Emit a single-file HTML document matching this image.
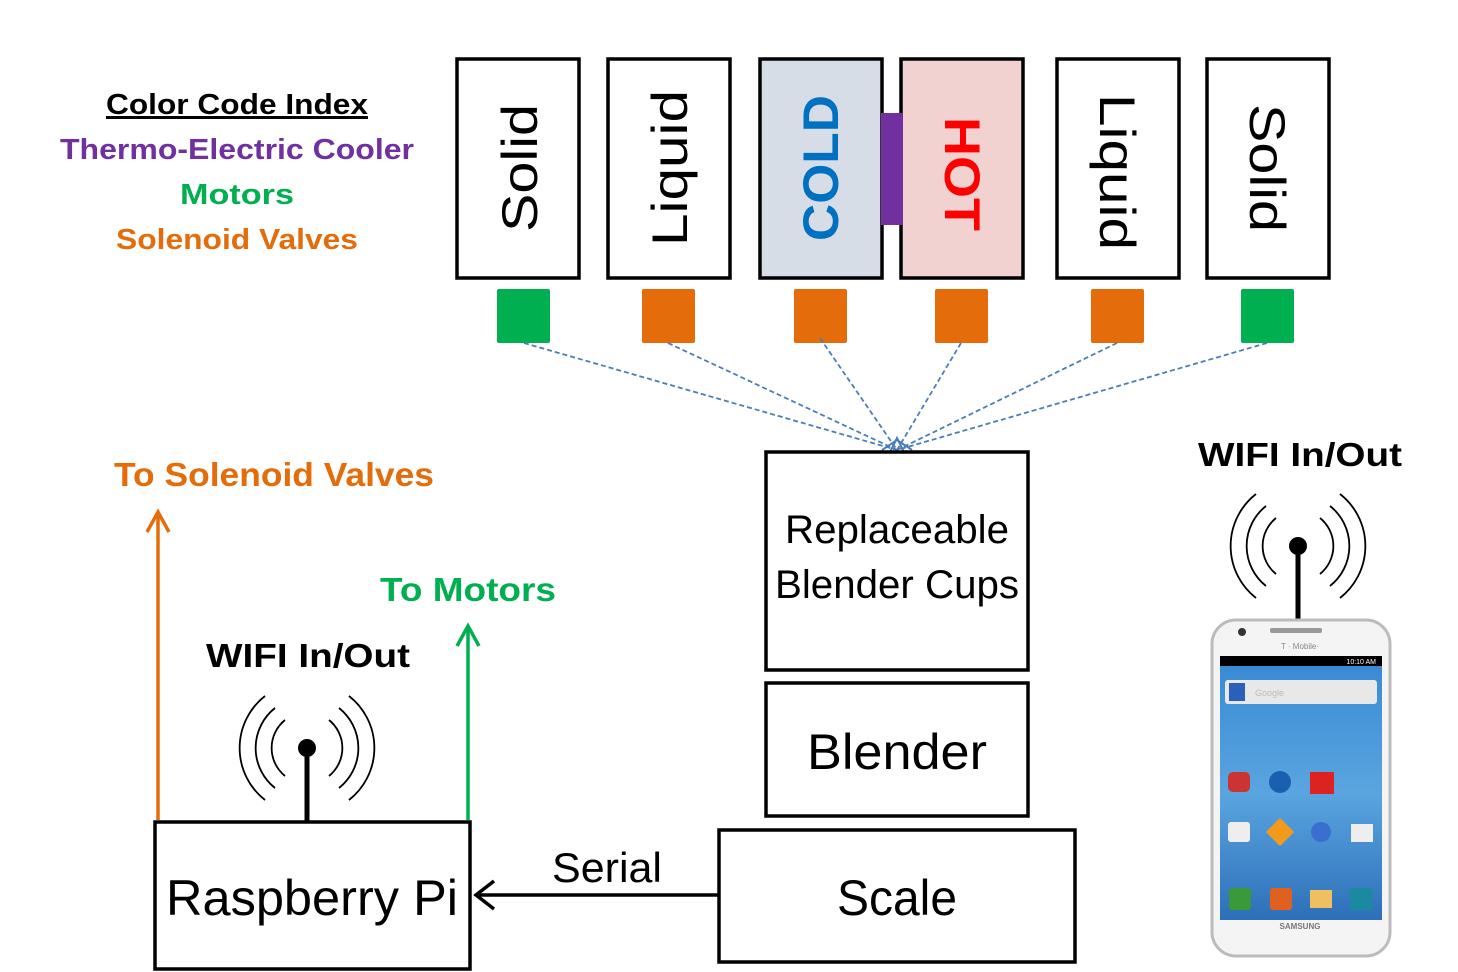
<!DOCTYPE html>
<html><head><style>body{margin:0;background:#fff}svg{display:block}text{font-family:"Liberation Sans",sans-serif}</style></head><body>
<svg width="1458" height="972" viewBox="0 0 1458 972" xmlns="http://www.w3.org/2000/svg">
<g font-weight="bold" font-size="29" text-anchor="middle">
<text x="237" y="114" fill="#000" text-decoration="underline" textLength="262" lengthAdjust="spacingAndGlyphs">Color Code Index</text>
<line x1="106" y1="118" x2="368" y2="118" stroke="#000" stroke-width="2"/>
<text x="237" y="159" fill="#7030a0" textLength="354" lengthAdjust="spacingAndGlyphs">Thermo-Electric Cooler</text>
<text x="237" y="204" fill="#00b050" textLength="114" lengthAdjust="spacingAndGlyphs">Motors</text>
<text x="237" y="249" fill="#e46c0a" textLength="242" lengthAdjust="spacingAndGlyphs">Solenoid Valves</text>
<text x="274" y="486" font-size="33" fill="#e46c0a" textLength="320" lengthAdjust="spacingAndGlyphs">To Solenoid Valves</text>
<text x="468" y="601" font-size="33" fill="#00b050" textLength="176" lengthAdjust="spacingAndGlyphs">To Motors</text>
<text x="308" y="667" font-size="33" fill="#000" textLength="204" lengthAdjust="spacingAndGlyphs">WIFI In/Out</text>
<text x="1300" y="466" font-size="33" fill="#000" textLength="204" lengthAdjust="spacingAndGlyphs">WIFI In/Out</text>
</g>
<g stroke="#000" stroke-width="3.5">
<rect x="457" y="59" width="122" height="219" fill="#fff"/>
<rect x="608" y="59" width="122" height="219" fill="#fff"/>
<rect x="760" y="59" width="122" height="219" fill="#d6dde7"/>
<rect x="901" y="59" width="122" height="219" fill="#f2d1d1"/>
<rect x="1057" y="59" width="122" height="219" fill="#fff"/>
<rect x="1207" y="59" width="122" height="219" fill="#fff"/>
</g>
<rect x="881" y="113" width="22" height="112" fill="#7030a0"/>
<g font-size="50" text-anchor="middle">
<text transform="translate(537,168) rotate(-90)" textLength="128" lengthAdjust="spacingAndGlyphs">Solid</text>
<text transform="translate(687,168) rotate(-90)" textLength="156" lengthAdjust="spacingAndGlyphs">Liquid</text>
<text transform="translate(838,168) rotate(-90)" font-weight="bold" fill="#0070c0" textLength="146" lengthAdjust="spacingAndGlyphs">COLD</text>
<text transform="translate(945,174) rotate(90)" font-weight="bold" fill="#ff0000" textLength="114" lengthAdjust="spacingAndGlyphs">HOT</text>
<text transform="translate(1100,172) rotate(90)" textLength="156" lengthAdjust="spacingAndGlyphs">Liquid</text>
<text transform="translate(1250,168) rotate(90)" textLength="128" lengthAdjust="spacingAndGlyphs">Solid</text>
</g>
<rect x="497" y="289" width="53" height="54" rx="2" fill="#00b050"/>
<rect x="642" y="289" width="53" height="54" rx="2" fill="#e46c0a"/>
<rect x="794" y="289" width="53" height="54" rx="2" fill="#e46c0a"/>
<rect x="935" y="289" width="53" height="54" rx="2" fill="#e46c0a"/>
<rect x="1091" y="289" width="53" height="54" rx="2" fill="#e46c0a"/>
<rect x="1241" y="289" width="53" height="54" rx="2" fill="#00b050"/>
<g stroke="#4a7ebb" stroke-width="1.8" stroke-dasharray="5,3" fill="none">
<line x1="524" y1="343" x2="897" y2="450"/>
<line x1="668" y1="343" x2="897" y2="450"/>
<line x1="820" y1="338" x2="897" y2="450"/>
<line x1="961" y1="343" x2="897" y2="450"/>
<line x1="1117" y1="343" x2="897" y2="450"/>
<line x1="1267" y1="343" x2="897" y2="450"/>
</g>
<path d="M882 450 L897 440 L912 450 M890 452 L897 438 L904 452" stroke="#4a7ebb" stroke-width="2" fill="none"/>
<g stroke="#000" stroke-width="3.5" fill="#fff">
<rect x="766" y="452" width="262" height="218"/>
<rect x="766" y="683" width="262" height="133"/>
<rect x="719" y="830" width="356" height="132"/>
<rect x="155" y="822" width="315" height="147"/>
</g>
<g text-anchor="middle" font-size="40">
<text x="897" y="543" textLength="224" lengthAdjust="spacingAndGlyphs">Replaceable</text>
<text x="897" y="598" textLength="244" lengthAdjust="spacingAndGlyphs">Blender Cups</text>
<text x="897" y="769" font-size="50" textLength="180" lengthAdjust="spacingAndGlyphs">Blender</text>
<text x="897" y="915" font-size="50" textLength="120" lengthAdjust="spacingAndGlyphs">Scale</text>
<text x="312" y="915" font-size="50" textLength="292" lengthAdjust="spacingAndGlyphs">Raspberry Pi</text>
<text x="607" y="882" font-size="42" textLength="110" lengthAdjust="spacingAndGlyphs">Serial</text>
</g>
<line x1="719" y1="895" x2="476" y2="895" stroke="#000" stroke-width="3.5"/>
<path d="M494 881 L476 895 L494 909" stroke="#000" stroke-width="3.5" fill="none"/>
<line x1="158" y1="820" x2="158" y2="512" stroke="#e46c0a" stroke-width="3.5"/>
<path d="M147 532 L158 512 L169 532" stroke="#e46c0a" stroke-width="3.5" fill="none"/>
<line x1="468" y1="820" x2="468" y2="626" stroke="#00b050" stroke-width="3.5"/>
<path d="M457 646 L468 626 L479 646" stroke="#00b050" stroke-width="3.5" fill="none"/>
<g stroke="#000" stroke-width="1.8" fill="none">
<g transform="translate(307,748)">
<path d="M-22 -28 A36 36 0 0 0 -22 28 M22 -28 A36 36 0 0 1 22 28"/>
<path d="M-32 -40 A51 51 0 0 0 -32 40 M32 -40 A51 51 0 0 1 32 40"/>
<path d="M-42 -52 A66 66 0 0 0 -42 52 M42 -52 A66 66 0 0 1 42 52"/>
</g>
<g transform="translate(1298,546)">
<path d="M-22 -28 A36 36 0 0 0 -22 28 M22 -28 A36 36 0 0 1 22 28"/>
<path d="M-32 -40 A51 51 0 0 0 -32 40 M32 -40 A51 51 0 0 1 32 40"/>
<path d="M-42 -52 A66 66 0 0 0 -42 52 M42 -52 A66 66 0 0 1 42 52"/>
</g>
</g>
<line x1="307" y1="748" x2="307" y2="822" stroke="#000" stroke-width="5"/>
<circle cx="307" cy="748" r="9" fill="#000"/>
<line x1="1298" y1="546" x2="1298" y2="620" stroke="#000" stroke-width="5"/>
<circle cx="1298" cy="546" r="9" fill="#000"/>
<!-- phone -->
<rect x="1212" y="620" width="178" height="336" rx="24" fill="#f4f4f4" stroke="#bbb" stroke-width="3"/>
<circle cx="1242" cy="632" r="4" fill="#333"/>
<rect x="1270" y="628" width="52" height="5" rx="2" fill="#999"/>
<text x="1300" y="649" font-size="8" fill="#888" text-anchor="middle">T · Mobile·</text>
<rect x="1220" y="656" width="162" height="10" fill="#000"/>
<text x="1376" y="664" font-size="7" fill="#fff" text-anchor="end">10:10 AM</text>
<defs><linearGradient id="g" x1="0" y1="0" x2="0" y2="1"><stop offset="0" stop-color="#3a8ad4"/><stop offset="0.5" stop-color="#5aa5e0"/><stop offset="1" stop-color="#2d6fb8"/></linearGradient></defs>
<rect x="1220" y="666" width="162" height="254" fill="url(#g)"/>
<rect x="1225" y="680" width="152" height="24" rx="3" fill="#e8e8e8"/>
<rect x="1229" y="683" width="16" height="18" fill="#2b5fb8"/>
<text x="1255" y="696" font-size="9" fill="#bbb">Google</text>
<rect x="1228" y="772" width="22" height="20" rx="5" fill="#c33"/>
<circle cx="1280" cy="782" r="11" fill="#1a5fb0"/>
<rect x="1310" y="772" width="24" height="22" fill="#d22"/>
<rect x="1228" y="822" width="22" height="20" rx="3" fill="#eee"/>
<rect x="1270" y="822" width="20" height="20" transform="rotate(45 1280 832)" fill="#f39a1a"/>
<circle cx="1321" cy="832" r="10" fill="#3a6fd0"/>
<rect x="1351" y="824" width="22" height="18" fill="#eee"/>
<rect x="1229" y="888" width="22" height="22" rx="3" fill="#3a9a3a"/>
<rect x="1270" y="888" width="22" height="22" rx="3" fill="#e06020"/>
<rect x="1310" y="890" width="22" height="18" fill="#f0c060"/>
<rect x="1350" y="888" width="22" height="22" rx="3" fill="#1a8aa0"/>
<text x="1300" y="929" font-size="8" font-weight="bold" fill="#777" text-anchor="middle">SAMSUNG</text>
</svg>
</body></html>
